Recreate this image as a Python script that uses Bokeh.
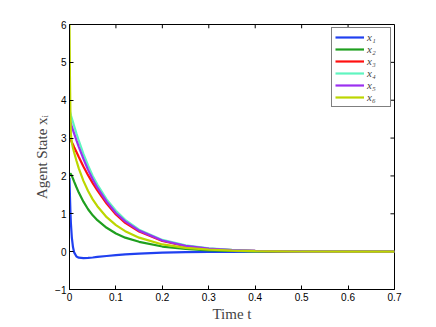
from bokeh.plotting import figure
from bokeh.models import Range1d, FixedTicker, Legend, LegendItem
from bokeh.embed import file_html
from bokeh.resources import INLINE

t = [0, 0.001, 0.002, 0.003, 0.005, 0.0075, 0.01, 0.015, 0.02, 0.03, 0.04, 0.05,
     0.06, 0.08, 0.1, 0.12, 0.15, 0.2, 0.25, 0.3, 0.35, 0.4, 0.5, 0.6, 0.7]

x1 = [1.95, 1.45, 1.05, 0.75, 0.38, 0.12, -0.02, -0.13, -0.16, -0.17, -0.165, -0.155,
      -0.14, -0.115, -0.09, -0.07, -0.05, -0.028, -0.015, -0.008, -0.004, -0.002, 0, 0, 0]
x2 = [2.0, 2.04, 2.06, 2.05, 2.0, 1.93, 1.85, 1.7, 1.56, 1.32, 1.12, 0.96,
      0.83, 0.63, 0.48, 0.37, 0.26, 0.135, 0.07, 0.036, 0.018, 0.009, 0.002, 0, 0]
x3 = [3.0, 2.99, 2.97, 2.94, 2.89, 2.83, 2.76, 2.63, 2.5, 2.25, 2.02, 1.81,
      1.62, 1.27, 0.98, 0.76, 0.53, 0.28, 0.145, 0.077, 0.04, 0.021, 0.006, 0.0015, 0]
x4 = [3.75, 3.7, 3.65, 3.6, 3.52, 3.42, 3.32, 3.12, 2.93, 2.58, 2.28, 2.0,
      1.77, 1.38, 1.08, 0.84, 0.58, 0.31, 0.165, 0.087, 0.046, 0.024, 0.006, 0.0015, 0]
x5 = [3.5, 3.46, 3.42, 3.38, 3.3, 3.21, 3.12, 2.94, 2.77, 2.45, 2.16, 1.91,
      1.69, 1.32, 1.02, 0.8, 0.555, 0.295, 0.155, 0.082, 0.043, 0.022, 0.006, 0.0015, 0]
x6 = [6.0, 4.6, 3.6, 3.1, 2.88, 2.74, 2.62, 2.4, 2.2, 1.87, 1.6, 1.38,
      1.2, 0.91, 0.7, 0.54, 0.37, 0.19, 0.1, 0.052, 0.027, 0.014, 0.004, 0.001, 0]

series = [x1, x2, x3, x4, x5, x6]
labels = ["x\u2081", "x\u2082", "x\u2083", "x\u2084", "x\u2085", "x\u2086"]
colors = ["#2040f0", "#1f9f1f", "#ff1010", "#60f5c0", "#9b30f0", "#bcd600"]

x_ticks = [0, 0.1, 0.2, 0.3, 0.4, 0.5, 0.6, 0.7]
y_ticks = [-1, 0, 1, 2, 3, 4, 5, 6]
x_min, x_max = 0, 0.7
y_min, y_max = -1, 6

p = figure(width=428, height=324, output_backend="svg", toolbar_location=None,
           x_range=Range1d(x_min, x_max), y_range=Range1d(y_min, y_max),
           min_border_left=69, min_border_right=34, min_border_top=24, min_border_bottom=20)
p.background_fill_color = "white"
p.border_fill_color = "white"
p.outline_line_color = "black"
p.outline_line_width = 1
p.xgrid.visible = False
p.ygrid.visible = False

for ax, ticks in ((p.xaxis[0], x_ticks), (p.yaxis[0], y_ticks)):
    ax.ticker = FixedTicker(ticks=ticks)
    ax.major_tick_in = 4
    ax.major_tick_out = 0
    ax.minor_tick_line_color = None
    ax.axis_line_color = "black"
    ax.major_tick_line_color = "black"
    ax.major_label_text_font = "Liberation Sans"
    ax.major_label_text_font_size = "10px"
    ax.major_label_text_color = "black"
    ax.major_label_standoff = 3
    ax.axis_label_text_font = "Liberation Serif"
    ax.axis_label_text_font_size = "15px"
    ax.axis_label_text_font_style = "normal"
    ax.axis_label_standoff = 2
p.xaxis[0].axis_label = "Time t"
p.yaxis[0].axis_label = "Agent State x\u1d62"

# inward ticks on top and right sides of the box (MATLAB box style)
tick_len_y = 0.1
tick_len_x = 0.0087
p.segment(x0=x_ticks, y0=[y_max] * len(x_ticks), x1=x_ticks,
          y1=[y_max - tick_len_y] * len(x_ticks), line_color="black", line_width=1)
p.segment(x0=[x_max] * len(y_ticks), y0=y_ticks, x1=[x_max - tick_len_x] * len(y_ticks),
          y1=y_ticks, line_color="black", line_width=1)

items = []
for s, lab, c in zip(series, labels, colors):
    r = p.line(t, s, line_color=c, line_width=2.2)
    items.append(LegendItem(label=lab, renderers=[r]))

legend = Legend(items=items, location="top_right")
legend.border_line_color = "black"
legend.border_line_width = 1
legend.background_fill_alpha = 1
legend.label_text_font = "Liberation Serif"
legend.label_text_font_style = "italic"
legend.label_text_font_size = "11px"
legend.label_text_line_height = 0.7
legend.label_height = 8
legend.glyph_height = 8
legend.glyph_width = 29
legend.spacing = 0
legend.padding = 3
legend.margin = 3
legend.label_standoff = 3
p.add_layout(legend)

open("out.html", "w").write(file_html(p, INLINE))
